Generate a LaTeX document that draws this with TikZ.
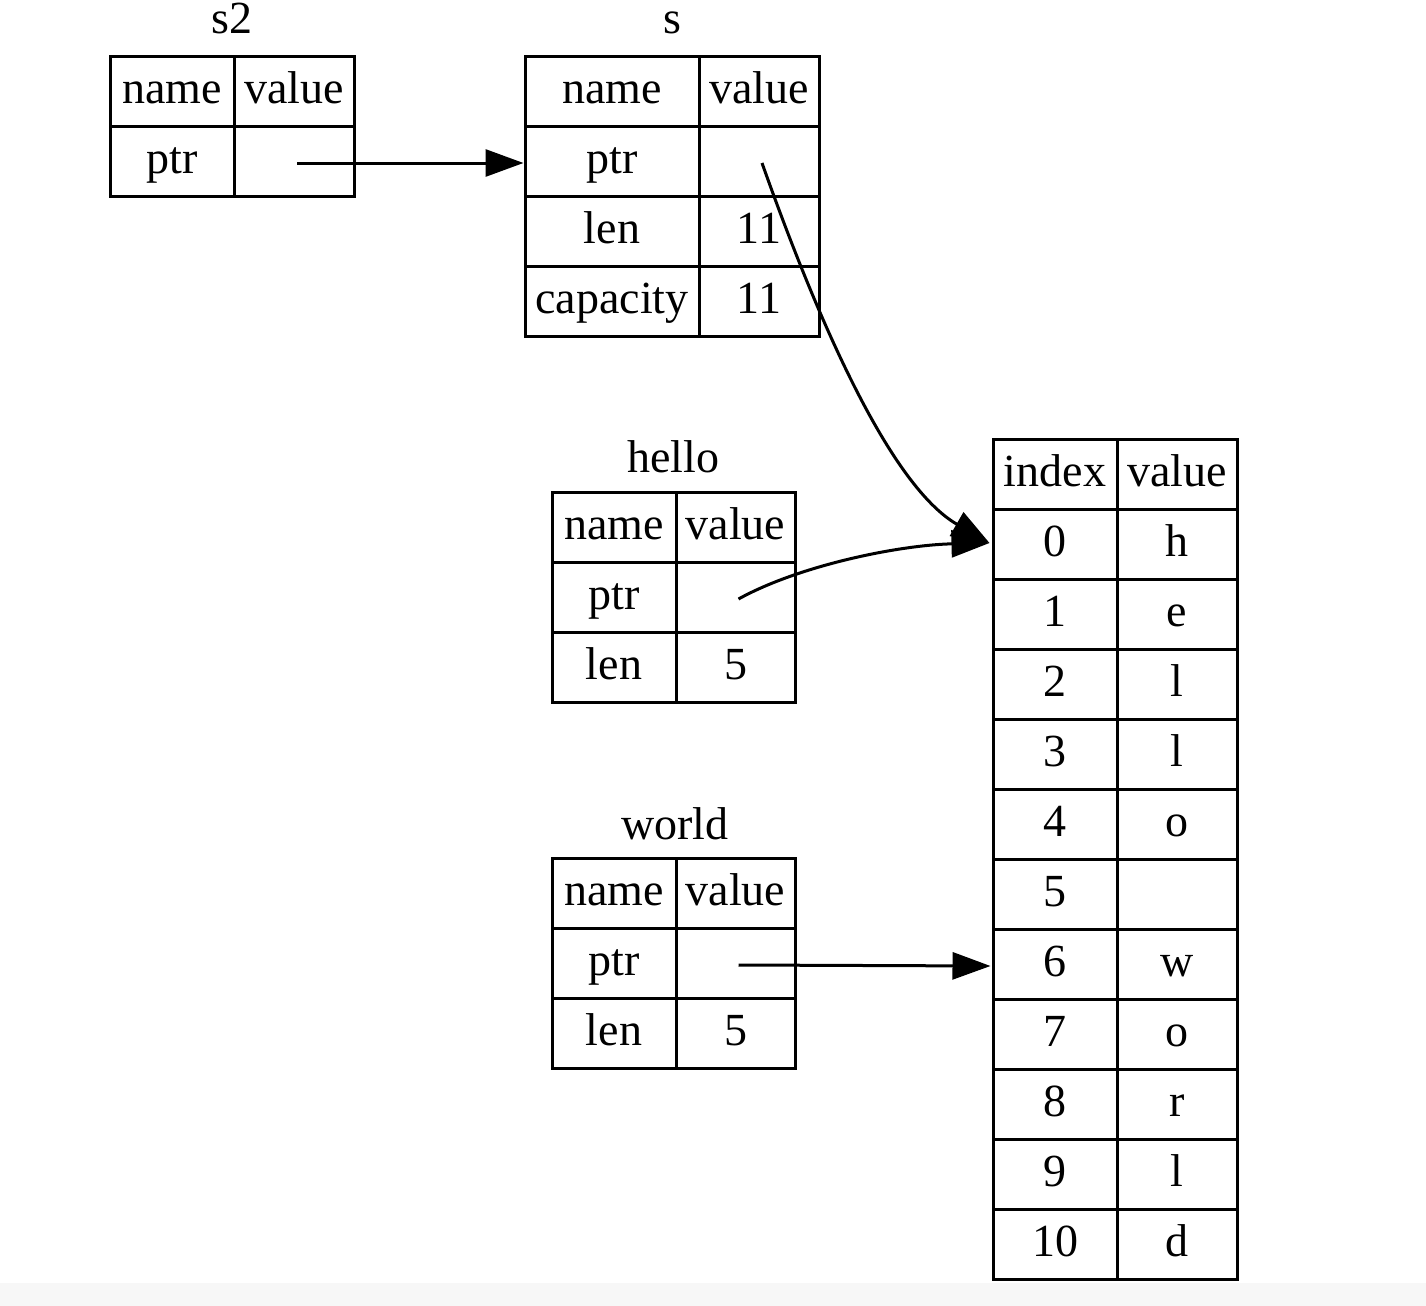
\documentclass[tikz,border=0pt]{standalone}
\usepackage{fontspec}
\setmainfont{Liberation Serif}
\usetikzlibrary{arrows.meta}
\tikzset{
  txt/.style={font=\fontsize{23}{27}\selectfont, inner sep=0pt},
  cell/.style={txt, draw, line width=1.5pt, minimum height=35pt, text height=14pt, text depth=2pt},
  cA/.style={cell, minimum width=62pt},
  cB/.style={cell, minimum width=60pt},
  cS/.style={cell, minimum width=87pt},
  title/.style={txt, anchor=base, text height=15pt, text depth=0pt},
  arr/.style={line width=1.5pt, -{Triangle[length=19pt,width=13.5pt]}},
  from/.style={shift={(3,2)}}
}
\begin{document}
\begin{tikzpicture}[x=0.5pt,y=-0.5pt]
\useasboundingbox (0,0) rectangle (1426,1306);
\fill[black!3] (0,1283) rectangle (1426,1306);

% s2
\node[title] (s2t) at (232,33.5) {s2};
\node[cA] (s2hn) at (172,91) {name};
\node[cB] (s2hv) at (294,91) {value};
\node[cA] (s2pn) at (172,161) {ptr};
\node[cB] (s2pv) at (294,161) {};

% s
\node[title] (st) at (672,33.5) {s};
\node[cS] (shn) at (612,91) {name};
\node[cB] (shv) at (759,91) {value};
\node[cS] (spn) at (612,161) {ptr};
\node[cB] (spv) at (759,161) {};
\node[cS] (sln) at (612,231) {len};
\node[cB] (slv) at (759,231) {11};
\node[cS] (scn) at (612,301) {capacity};
\node[cB] (scv) at (759,301) {11};

% hello
\node[title] (ht) at (673.5,472) {hello};
\node[cA] (hhn) at (614,527) {name};
\node[cB,minimum width=59.5pt] (hhv) at (735.5,527) {value};
\node[cA] (hpn) at (614,597) {ptr};
\node[cB,minimum width=59.5pt] (hpv) at (735.5,597) {};
\node[cA] (hln) at (614,667) {len};
\node[cB,minimum width=59.5pt] (hlv) at (735.5,667) {5};

% world
\node[title] (wt) at (675,839) {world};
\node[cA] (whn) at (614,893) {name};
\node[cB,minimum width=59.5pt] (whv) at (735.5,893) {value};
\node[cA] (wpn) at (614,963) {ptr};
\node[cB,minimum width=59.5pt] (wpv) at (735.5,963) {};
\node[cA] (wln) at (614,1033) {len};
\node[cB,minimum width=59.5pt] (wlv) at (735.5,1033) {5};

% big table
\node[cA] (bhi) at (1055,474) {index};
\node[cB] (bhv) at (1177,474) {value};
\foreach \v [count=\k from 0] in {h,e,l,l,o,{},w,o,r,l,d} {
  \node[cA] (i\k) at (1055,544+70*\k) {\k};
  \node[cB] (v\k) at (1177,544+70*\k) {\v};
}

% arrows
\draw[arr] ([from]s2pv.center) -- ([yshift=-1pt]spn.west);
\draw[arr] ([from]spv.center) .. controls (800,270) and (880,480) .. ([shift={(-2,-1)}]i0.west);
\draw[arr] ([from]hpv.center) .. controls (800,565) and (900,545) .. ([shift={(-2,-1)}]i0.west);
\draw[arr] ([from]wpv.center) -- ([shift={(-1,2)}]i6.west);
\end{tikzpicture}
\end{document}
